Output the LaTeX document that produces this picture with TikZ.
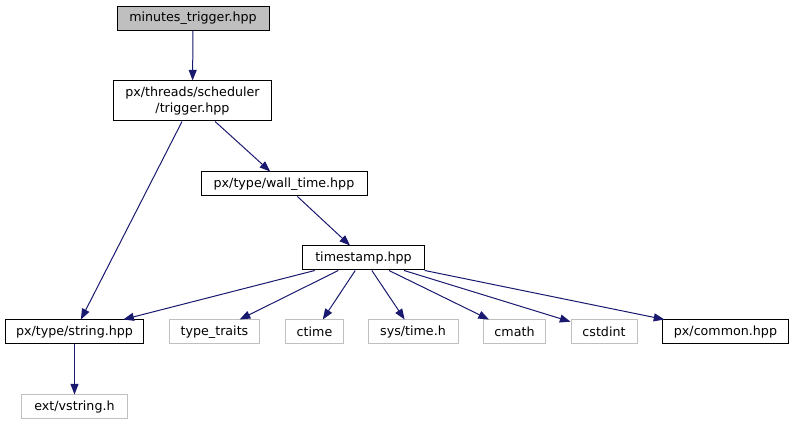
\documentclass[tikz,border=0pt]{standalone}
\usepackage{fontspec}
\setmainfont{DejaVu Sans}
\usetikzlibrary{arrows.meta}

\begin{document}
\begin{tikzpicture}[x=0.75pt,y=-0.75pt,
	hdr/.style={draw=black,line width=0.75pt,inner sep=0pt,minimum height=18pt,font=\fontsize{9.5}{11.3}\selectfont,align=center},
	sys/.style={hdr,draw=black!25},
	inc/.style={draw=midnightblue,line width=0.75pt,-{Triangle[length=8pt,width=6pt]}}]
			\definecolor{midnightblue}{HTML}{191970}
			\useasboundingbox (0,0) rectangle (793,427);
			\node[hdr,fill=black!25,minimum width=114pt] (mt) at (193,18.5) {minutes\_trigger.hpp};
			\node[hdr,minimum width=119pt,minimum height=30pt] (tr) at (192.5,101) {px/threads/scheduler\\/trigger.hpp};
			\node[hdr,minimum width=124.5pt] (wt) at (284,184) {px/type/wall\_time.hpp};
			\node[hdr,minimum width=91pt] (ts) at (363.5,258) {timestamp.hpp};
			\node[hdr,minimum width=104pt] (str) at (74.5,332) {px/type/string.hpp};
			\node[hdr,minimum width=95pt] (co) at (725.5,332) {px/common.hpp};
			\node[sys,minimum width=79pt] (ev) at (74.5,407) {ext/vstring.h};
			\foreach \n/\x/\w/\t in {tt/214.5/68/{type\_traits}, ct/314.5/44/{ctime}, sy/413/67.5/{sys/time.h}, cm/514.5/47/{cmath}, cs/604/49.5/{cstdint}}{
				\node[sys,minimum width=\w pt] (\n) at (\x,332) {\t};
			}
			\draw[inc] (mt) -- (tr);
			\draw[inc] (tr) -- (str);
			\draw[inc] (tr) -- (wt);
			\draw[inc] (wt) -- (ts);
			\draw[inc] (str) -- (ev);
			\foreach \n in {str,tt,ct,sy,cm,cs,co}{ \draw[inc] (ts) -- (\n); }
		\end{tikzpicture}
\end{document}
